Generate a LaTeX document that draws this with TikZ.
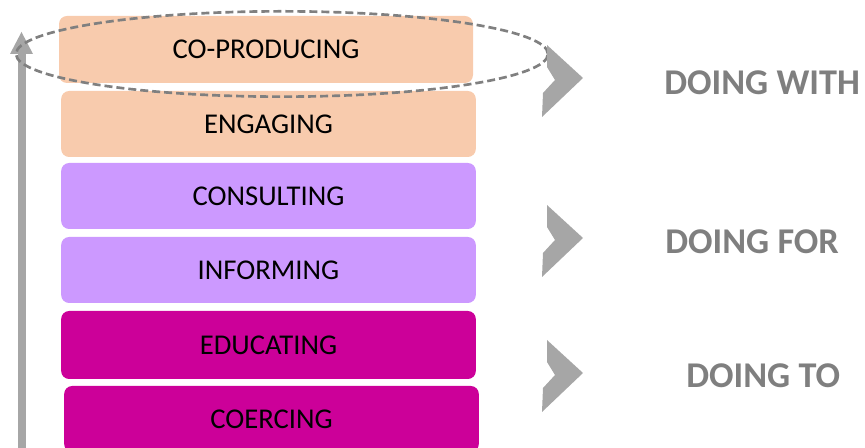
\documentclass[tikz,border=0pt]{standalone}
\usepackage{fontspec}
\setmainfont{Carlito}
\usetikzlibrary{shapes.geometric}
\definecolor{peach}{HTML}{F8CBAD}
\definecolor{lav}{HTML}{CC99FF}
\definecolor{mag}{HTML}{CC0099}
\definecolor{arrgray}{HTML}{A6A6A6}
\definecolor{txtgray}{HTML}{7F7F7F}
\definecolor{dashgray}{HTML}{808080}
\tikzset{
  lvl/.style={rounded corners=6pt, inner sep=0pt, minimum width=311pt, minimum height=49.5pt,
    font=\fontsize{21.5}{25}\selectfont, text=black},
  doing/.style={anchor=west, inner sep=0pt, font=\fontsize{27.2}{32}\selectfont\bfseries, text=txtgray},
  chev/.pic={\fill[arrgray] (0,0) -- (36,33) -- (-5,72) -- (-4,48) -- (8,35) -- (0,22) -- cycle;}
}
\begin{document}
\begin{tikzpicture}[x=0.75pt,y=-0.75pt]
\useasboundingbox (0,0) rectangle (865,448);
% levels
\node[lvl, fill=peach, minimum width=310.5pt, minimum height=50.25pt] (cop) at (266,49.5) {CO-PRODUCING};
\node[lvl, fill=peach] (eng) at (268.5,124) {ENGAGING};
\node[lvl, fill=lav] (con) at (268.5,196) {CONSULTING};
\node[lvl, fill=lav] (inf) at (268.5,270) {INFORMING};
\node[lvl, fill=mag, minimum height=51pt] (edu) at (268.5,345) {EDUCATING};
\node[lvl, fill=mag] (coe) at (271.5,419) {COERCING};
% vertical arrow
\coordinate (abot) at (21.5,450);
\coordinate (abase) at (21.5,54);
\coordinate (atip) at (21.5,32);
\draw[arrgray, line width=6pt] (abot) -- (abase);
\fill[arrgray] (atip) -- ([xshift=11.5*0.75pt]abase) -- ([xshift=-11.5*0.75pt]abase) -- cycle;
% dashed ellipse
\node[draw=dashgray, dash pattern=on 6pt off 3pt, line width=2pt, ellipse, inner sep=0pt,
  minimum width=399pt, minimum height=64pt] (ell) at (282,54) {};
% chevrons
\pic at (547,45) {chev};
\pic at (547,205) {chev};
\pic at (547,340) {chev};
% labels
\node[doing] (dw) at (664,82.5) {DOING WITH};
\node[doing] (df) at (665,241.5) {DOING FOR};
\node[doing] (dt) at (686,376) {DOING TO};
\end{tikzpicture}
\end{document}
